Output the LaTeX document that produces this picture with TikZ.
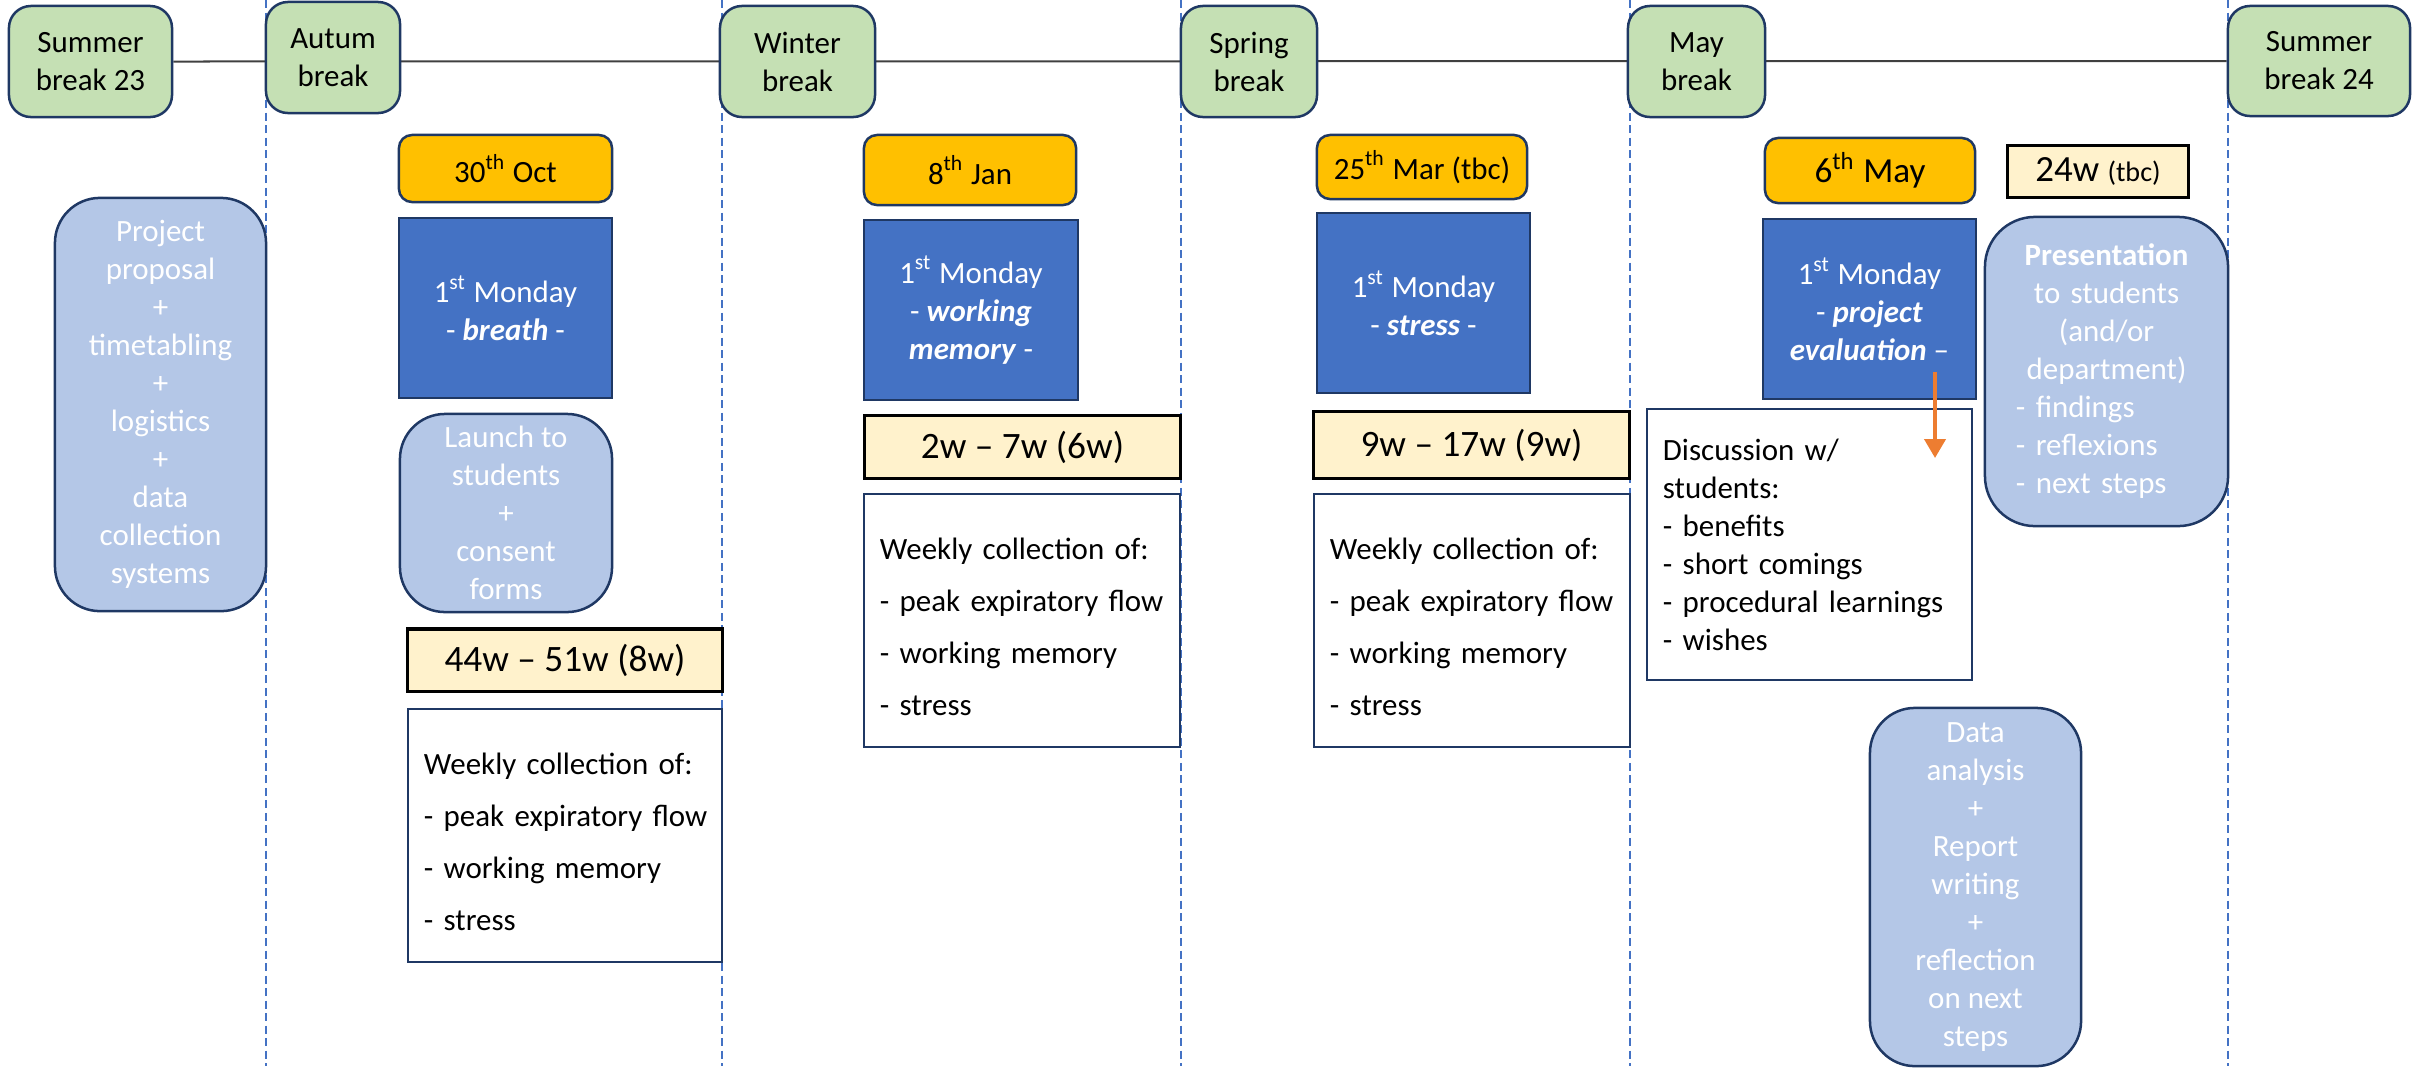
\documentclass[tikz,border=0pt]{standalone}
\usepackage{fontspec}
\setmainfont{Carlito}
\usepackage{tikz}
\usetikzlibrary{arrows.meta,backgrounds}

\definecolor{navy}{HTML}{1F3864}
\definecolor{brkgreen}{HTML}{C5E0B4}
\definecolor{dategold}{HTML}{FFC000}
\definecolor{monblue}{HTML}{4472C4}
\definecolor{taskblue}{HTML}{B4C7E7}
\definecolor{weekcream}{HTML}{FFF2CC}
\definecolor{arrorange}{HTML}{ED7D31}
\definecolor{linegray}{HTML}{404040}

\newcommand{\normtxt}{\fontsize{8.8pt}{10.8pt}\selectfont}
\newcommand{\bigtxt}{\fontsize{10.6pt}{12.5pt}\selectfont}
\newcommand{\bi}[1]{\textbf{\textit{#1}}}
\newcommand{\weekly}{\rule{0pt}{0.35cm}Weekly collection of:\\[0.14cm]\mbox{- peak expiratory flow}\\[0.14cm]- working memory\\[0.14cm]- stress}

\begin{document}
\begin{tikzpicture}[x=0.01cm,y=-0.01cm]
                      \tikzstyle{brk}=[draw=navy,fill=brkgreen,rounded corners=0.22cm,line width=0.025cm,align=center,inner sep=0pt,font=\normtxt]
                      \tikzstyle{datebox}=[draw=navy,fill=dategold,rounded corners=0.13cm,line width=0.025cm,align=center,inner sep=0pt,font=\normtxt]
                      \tikzstyle{monday}=[draw=navy,fill=monblue,line width=0.025cm,align=center,inner sep=0pt,text=white,font=\normtxt]
                      \tikzstyle{task}=[draw=navy,fill=taskblue,rounded corners=0.45cm,line width=0.025cm,align=center,inner sep=0pt,text=white,font=\normtxt]
                      \tikzstyle{weeks}=[draw=black,fill=weekcream,line width=0.03cm,align=center,inner sep=0pt,font=\bigtxt]
                      \tikzstyle{collect}=[draw=navy,fill=white,line width=0.025cm,align=left,inner xsep=0.16cm,inner ysep=0pt,font=\normtxt]
                      \tikzstyle{sep}=[monblue,dash pattern=on 0.08cm off 0.045cm,line width=0.015cm]
                      \useasboundingbox (0,0) rectangle (2425,1069);
                      \node[brk,minimum width=1.63cm,minimum height=1.11cm] (sb23) at (90.5,61.5) {Summer\\break 23};
                      \node[brk,minimum width=1.34cm,minimum height=1.11cm] (autum) at (333,57.5) {Autum\\break};
                      \node[brk,minimum width=1.55cm,minimum height=1.11cm] (winter) at (797.5,61.5) {Winter\\break};
                      \node[brk,minimum width=1.36cm,minimum height=1.11cm] (spring) at (1249,61.5) {Spring\\break};
                      \node[brk,minimum width=1.37cm,minimum height=1.11cm] (may) at (1696.5,61.5) {May\\break};
                      \node[brk,minimum width=1.82cm,minimum height=1.10cm] (sb24) at (2319,61) {Summer\\break 24};
                      \node[datebox,minimum width=2.13cm,minimum height=0.67cm] (oct) at (505.5,168.5) {30\textsuperscript{th} Oct};
                      \node[datebox,minimum width=2.12cm,minimum height=0.70cm] (jan) at (970,170) {8\textsuperscript{th} Jan};
                      \node[datebox,minimum width=2.10cm,minimum height=0.64cm] (mar) at (1422,167) {25\textsuperscript{th} Mar (tbc)};
                      \node[datebox,minimum width=2.10cm,minimum height=0.65cm,font=\fontsize{10pt}{12pt}\selectfont] (mayd) at (1870,170.5) {6\textsuperscript{th} May};
                      \node[monday,minimum width=2.13cm,minimum height=1.80cm] (breath) at (505.5,308) {1\textsuperscript{st} Monday\\- \bi{breath} -};
                      \node[monday,minimum width=2.14cm,minimum height=1.80cm] (wmem) at (971,310) {1\textsuperscript{st} Monday\\- \bi{working}\\\bi{memory} -};
                      \node[monday,minimum width=2.13cm,minimum height=1.80cm] (strs) at (1423.5,303) {1\textsuperscript{st} Monday\\- \bi{stress} -};
                      \node[monday,minimum width=2.13cm,minimum height=1.80cm] (evalm) at (1869.5,309) {1\textsuperscript{st} Monday\\- \bi{project}\\\bi{evaluation} –};
                      \node[task,minimum width=2.11cm,minimum height=4.13cm] (proposal) at (160.5,404.5) {Project\\proposal\\+\\timetabling\\+\\logistics\\+\\data\\collection\\systems};
                      \node[task,minimum width=2.12cm,minimum height=1.98cm] (launch) at (506,513) {Launch to\\students\\+\\consent\\forms};
                      \node[task,rounded corners=0.5cm,text width=1.81cm,align=left,inner xsep=0.31cm,minimum height=3.09cm] (present) at (2106.5,371.5) {{\centering\textbf{Presentation}\\to students\\(and/or\\department)\par}- findings\\- reflexions\\- next steps};
                      \node[task,minimum width=2.11cm,minimum height=3.58cm] (analysis) at (1975.5,887) {Data\\analysis\\+\\Report\\writing\\+\\reflection\\on next\\steps};
                      \node[weeks,minimum width=3.14cm,minimum height=0.62cm] (wk1) at (565,660) {44w – 51w (8w)};
                      \node[weeks,minimum width=3.15cm,minimum height=0.62cm] (wk2) at (1022.5,447) {2w – 7w (6w)};
                      \node[weeks,minimum width=3.15cm,minimum height=0.66cm] (wk3) at (1471.5,445) {9w – 17w (9w)};
                      \node[weeks,minimum width=1.80cm,minimum height=0.51cm,font=\fontsize{10.5pt}{12pt}\selectfont] (wk4) at (2098,171.5) {24w {\fontsize{8pt}{10pt}\selectfont(tbc)}};
                      \node[collect,text width=2.82cm,minimum height=2.53cm] (coll1) at (565,835.5) {\weekly};
                      \node[collect,text width=2.84cm,minimum height=2.53cm] (coll2) at (1022,620.5) {\weekly};
                      \node[collect,text width=2.84cm,minimum height=2.53cm] (coll3) at (1472,620.5) {\weekly};
                      \node[collect,text width=2.93cm,minimum height=2.71cm] (disc) at (1809.5,544.5) {Discussion w/\\students:\\- benefits\\- short comings\\- procedural learnings\\- wishes};
                      \coordinate (arrtop) at (1935,372);
                      \coordinate (arrbot) at (1935,458);
                      \draw[arrorange,line width=0.04cm,-{Triangle[length=0.19cm,width=0.21cm]}] (arrtop) -- (arrbot);
                      \begin{scope}[on background layer]
                      \draw[linegray,line width=0.02cm] (sb23.east) -- (sb24.west);
                      \foreach \x in {266,722,1181,1630,2228}
                          \draw[sep] (\x,0) -- (\x,1066);
                      \end{scope}
                  \end{tikzpicture}
\end{document}
